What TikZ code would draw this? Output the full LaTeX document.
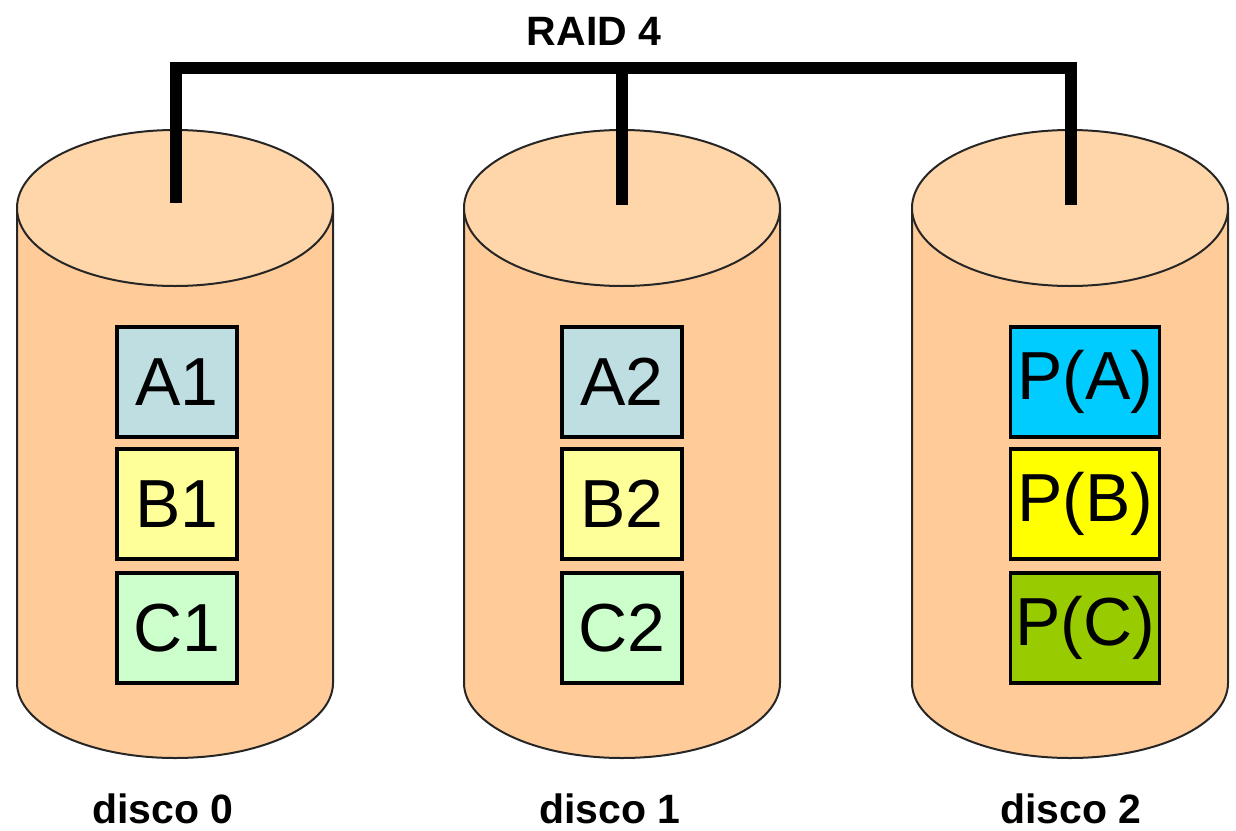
\documentclass[tikz,border=0pt]{standalone}
\usepackage{fontspec}
\setmainfont{Liberation Sans}
\definecolor{bodyc}{HTML}{FFCC99}
\definecolor{topc}{HTML}{FFD6AA}
\definecolor{ca}{HTML}{BFDEE2}
\definecolor{cb}{HTML}{FFFF99}
\definecolor{cc}{HTML}{CCFFCC}
\definecolor{cpa}{HTML}{00CCFF}
\definecolor{cpb}{HTML}{FFFF00}
\definecolor{cpc}{HTML}{99CC00}
\begin{document}
\begin{tikzpicture}[x=0.5pt,y=-0.5pt,
  blockbox/.style={draw=black,line width=1.75pt,minimum width=60pt,minimum height=55pt,inner sep=0pt,
    font=\fontsize{34pt}{34pt}\selectfont},
  parbox/.style={blockbox,minimum width=74.5pt},
  disklabel/.style={font=\fontsize{20.5pt}{20.5pt}\selectfont\bfseries,anchor=base,inner sep=0pt},
  cyl/.style={draw=black!85,line width=1pt},
  bus/.style={draw=black,line width=5.8pt,line cap=butt,line join=miter}]
\useasboundingbox (0,0) rectangle (1236,830);
% cylinders
\foreach \cx in {175,622,1070}{
  \path[cyl,fill=bodyc] (\cx-158,208) -- (\cx-158,683)
     arc[start angle=180,end angle=360,x radius=79pt,y radius=37.5pt] -- (\cx+158,208) -- cycle;
  \path[cyl,fill=topc] (\cx,208) ellipse [x radius=79pt,y radius=39pt];
}
% connector
\coordinate (t0) at (176,203);
\coordinate (t1) at (622,205);
\coordinate (t2) at (1071,205);
\coordinate (bar) at (622,68);
\draw[bus] (t0) |- (bar) -| (t2);
\draw[bus] (t1) -- (bar);
\node[font=\fontsize{20.5pt}{20.5pt}\selectfont\bfseries,anchor=base] (title) at (594,46) {RAID 4};
% blocks
\node[blockbox,fill=ca] (a1) at (177,382) {A1};
\node[blockbox,fill=cb] (b1) at (177,504) {B1};
\node[blockbox,fill=cc] (c1) at (177,628) {C1};
\node[blockbox,fill=ca] (a2) at (622,382) {A2};
\node[blockbox,fill=cb] (b2) at (622,504) {B2};
\node[blockbox,fill=cc] (c2) at (622,628) {C2};
\node[parbox,fill=cpa] (pa) at (1085,382) {P(A)};
\node[parbox,fill=cpb] (pb) at (1085,504) {P(B)};
\node[parbox,fill=cpc] (pc) at (1085,628) {P(C)};
% labels
\node[disklabel] (l0) at (163,823) {disco 0};
\node[disklabel] (l1) at (610,823) {disco 1};
\node[disklabel] (l2) at (1071,823) {disco 2};
\end{tikzpicture}
\end{document}
